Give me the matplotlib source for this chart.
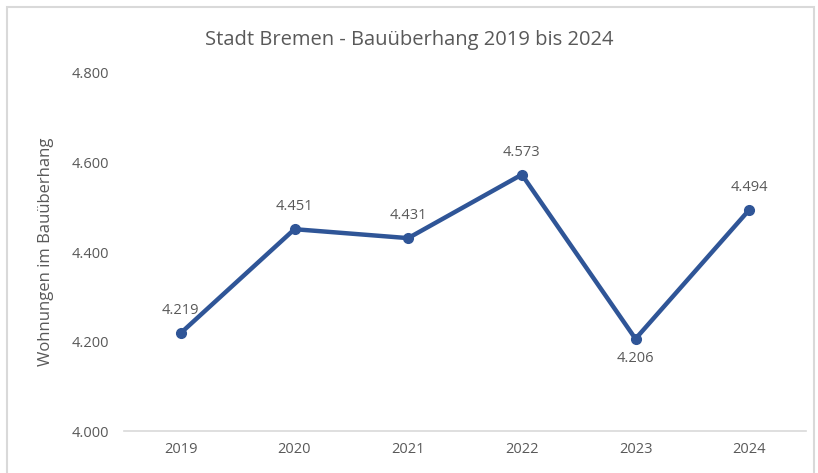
import matplotlib.pyplot as plt
from matplotlib.patches import Rectangle

years = ['2019', '2020', '2021', '2022', '2023', '2024']
wohnungen = [4219, 4451, 4431, 4573, 4206, 4494]
label_below = [False, False, False, False, True, False]
y_ticks = [4000, 4200, 4400, 4600, 4800]


def de_format(v):
    return f'{v:,.0f}'.replace(',', '.')


plt.rcParams['font.family'] = ['Open Sans', 'DejaVu Sans']
grey = '#595959'
blue = '#2F5597'

fig = plt.figure(figsize=(8.18, 4.73), dpi=100)
ax = fig.add_axes([124 / 818, 1 - 431 / 473, (806 - 124) / 818, (431 - 73) / 473])

# frame around the whole chart
fig.patches.append(Rectangle((7 / 818, -0.05), 807 / 818, 1 - 7 / 473 + 0.05,
                             transform=fig.transFigure, fill=False,
                             edgecolor='#d9d9d9', linewidth=1.5))

x = list(range(len(years)))
ax.plot(x, wohnungen, color=blue, linewidth=3.2, marker='o', markersize=7,
        solid_capstyle='round', zorder=3)

for xi, v, below in zip(x, wohnungen, label_below):
    off = -14.5 if below else 16
    ax.annotate(de_format(v), (xi, v), xytext=(0, off), textcoords='offset points',
                ha='center', va='center', fontsize=10.5, color=grey)

ax.set_xlim(-0.5, len(years) - 0.5)
ax.set_ylim(4000, 4800)
ax.set_xticks(x)
ax.set_xticklabels(years)
ax.set_yticks(y_ticks)
ax.set_yticklabels([de_format(t) for t in y_ticks])
ax.tick_params(length=0, labelsize=10.5, colors=grey)
ax.tick_params(axis='x', pad=8)
ax.tick_params(axis='y', pad=11)

for s in ['top', 'right', 'left']:
    ax.spines[s].set_visible(False)
ax.spines['bottom'].set_color('#d9d9d9')
ax.spines['bottom'].set_linewidth(1.2)

ax.set_ylabel('Wohnungen im Bauüberhang', fontsize=12, color=grey)
ax.yaxis.set_label_coords(-70 / 682, 0.5)

fig.text(0.5, 1 - 40 / 473, 'Stadt Bremen - Bauüberhang 2019 bis 2024',
         ha='center', va='center', fontsize=14.5, color=grey)

fig.savefig('out.png', dpi=100)
